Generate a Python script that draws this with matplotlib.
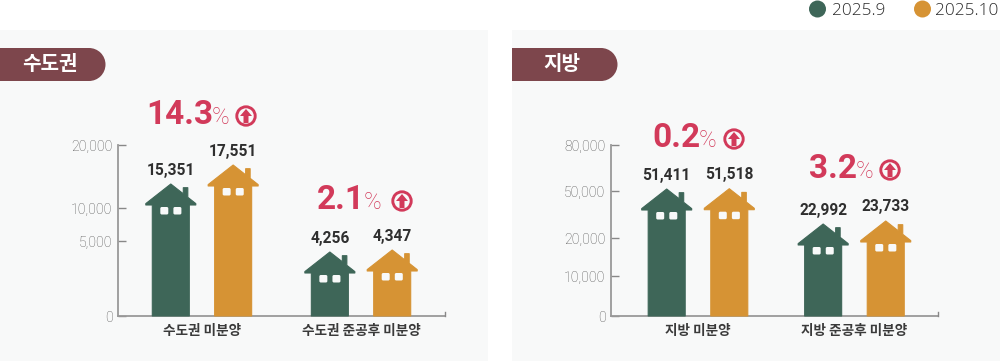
import numpy as np
from matplotlib import pyplot as plt
from matplotlib.patches import Polygon, Circle, Rectangle, FancyBboxPatch

plt.rcParams['font.family'] = ['Noto Sans CJK KR', 'DejaVu Sans']

# data
series_names = ["2025.9", "2025.10"]
left_title = "수도권"
right_title = "지방"
left_categories = ["수도권 미분양", "수도권 준공후 미분양"]
right_categories = ["지방 미분양", "지방 준공후 미분양"]
left_sep = [15351, 4256]
left_oct = [17551, 4347]
right_sep = [51411, 22992]
right_oct = [51518, 23733]
left_changes = ["14.3", "2.1"]
right_changes = ["0.2", "3.2"]
left_ticks = [0, 5000, 10000, 20000]
right_ticks = [0, 10000, 20000, 50000, 80000]

# the value axes in the picture are not linear, so the scale is piecewise
left_knots = [0, 4256, 4347, 5000, 10000, 15351, 17551, 20000]
left_knots_px = [0, 64, 66, 75, 108, 132, 151, 171]
right_knots = [0, 10000, 20000, 22992, 23733, 50000, 51411, 51518, 80000]
right_knots_px = [0, 40, 78, 92, 95, 125, 127, 127.3, 171]

green = "#3e6658"
orange = "#d69334"
red = "#d23a5a"
panel = "#f8f9f9"
maroon = "#7d464c"
num_font = ['Roboto', 'DejaVu Sans']

fig = plt.figure(figsize=(10, 3.61), dpi=100)
W, H = 1000, 361

# pixel overlay for the panels and house shapes
back = fig.add_axes([0, 0, 1, 1], zorder=0)
back.set_xlim(0, W)
back.set_ylim(H, 0)
back.axis("off")
top = fig.add_axes([0, 0, 1, 1], zorder=5)
top.set_xlim(0, W)
top.set_ylim(H, 0)
top.axis("off")


def make_axes(x0, x1, xlim, knots, knots_px, ticks):
    ax = fig.add_axes([x0 / W, (H - 316) / H, (x1 - x0) / W, 171 / H], zorder=2)
    ax.patch.set_alpha(0)
    ax.set_yscale("function", functions=(
        lambda v: np.interp(v, knots, knots_px),
        lambda p: np.interp(p, knots_px, knots)))
    ax.set_xlim(*xlim)
    ax.set_ylim(0, ticks[-1])
    ax.set_yticks(ticks)
    ax.set_yticklabels(["{:,}".format(t) for t in ticks], fontsize=10.2,
                       color="#555555", family=num_font, fontweight="light")
    ax.minorticks_off()
    ax.tick_params(axis="y", direction="in", length=5.8, width=1, color="#888888", pad=4)
    ax.tick_params(axis="x", length=0, pad=6)
    for side in ["top", "right"]:
        ax.spines[side].set_visible(False)
    for side in ["left", "bottom"]:
        ax.spines[side].set_color("#999999")
        ax.spines[side].set_linewidth(1.3)
    return ax


def draw_house(ax, x, value, color):
    cx, apex = top.transData.inverted().transform(ax.transData.transform((x, value)))
    base = 316
    shape = [(0, 0), (12.5, 9.8), (12.5, 3.7), (17, 3.7), (17, 13.3), (25, 19.6),
             (25, 21), (18.5, 21), (18.5, base - apex), (-18.5, base - apex),
             (-18.5, 21), (-25, 21), (-25, 19.6)]
    verts = [(cx + a, apex + b) for a, b in shape]
    top.add_patch(Polygon(verts, closed=True, facecolor=color, edgecolor=color,
                          lw=0.8, joinstyle="round"))
    for wx in [-10.5, 2.6]:
        top.add_patch(FancyBboxPatch((cx + wx + 1.5, apex + 24.5), 5, 4.5,
                                     boxstyle="round,pad=1.5,rounding_size=1.5",
                                     facecolor=panel, edgecolor="none"))
    top.text(cx, apex - 14, "{:,}".format(value), ha="center", va="center", fontsize=11.2,
             fontweight="bold", color="#2f2f2f", family=num_font)


def draw_change(text, right_x, baseline, circle_x):
    top.text(right_x + 2, baseline, text, ha="right", va="baseline", fontsize=24,
             fontweight="bold", color=red, family=num_font)
    top.text(right_x + 1, baseline, "%", ha="left", va="baseline", fontsize=17,
             fontweight="light", color=red, family=num_font)
    cy = baseline - 8
    top.add_patch(Circle((circle_x, cy), 9.2, facecolor="none", edgecolor=red, lw=2.1))
    arrow = [(0, -7), (6, 0), (2.5, 0), (2.5, 7), (-2.5, 7), (-2.5, 0), (-6, 0)]
    top.add_patch(Polygon([(circle_x + a, cy + b) for a, b in arrow], closed=True,
                          facecolor=red, edgecolor="none"))


def draw_panel(x0, x1, title, title_x):
    back.add_patch(Rectangle((x0, 30), x1 - x0, H - 30, facecolor=panel, edgecolor="none"))
    back.add_patch(Rectangle((x0, 48), 89, 33, facecolor=maroon, edgecolor="none"))
    back.add_patch(Circle((x0 + 89, 64.5), 16.5, facecolor=maroon, edgecolor="none"))
    top.text(title_x, 64, title, ha="center", va="center", fontsize=14.5,
             fontweight="bold", color="white")


draw_panel(0, 488, left_title, 50)
draw_panel(512, 1000, right_title, 562)

# left chart
ax1 = make_axes(118, 445, (-0.528, 1.528), left_knots, left_knots_px, left_ticks)
ax1.set_xticks([0, 1])
ax1.set_xticklabels(left_categories, fontsize=9.8, fontweight="bold", color="#3a3a3a")
ax1.set_xlim(-0.528, 1.528)
for i in range(2):
    draw_house(ax1, i - 0.196, left_sep[i], green)
    draw_house(ax1, i + 0.196, left_oct[i], orange)

# right chart
ax2 = make_axes(611, 938, (-0.556, 1.534), right_knots, right_knots_px, right_ticks)
ax2.set_xticks([0, 1])
ax2.set_xticklabels(right_categories, fontsize=9.8, fontweight="bold", color="#3a3a3a")
ax2.set_xlim(-0.556, 1.534)
for i in range(2):
    draw_house(ax2, i - 0.2, right_sep[i], green)
    draw_house(ax2, i + 0.2, right_oct[i], orange)

# little end ticks on the baselines
for x_end in [445, 938]:
    top.plot([x_end, x_end], [316, 312], color="#888888", lw=1)

draw_change(left_changes[0], 211, 124, 246)
draw_change(left_changes[1], 363, 209, 402)
draw_change(right_changes[0], 698, 147, 734)
draw_change(right_changes[1], 855, 178, 890)

# legend
for cx, tx, col, name in [(817.5, 832, green, series_names[0]), (922.5, 935, orange, series_names[1])]:
    top.add_patch(Circle((cx, 9), 8.5, facecolor=col, edgecolor="none", clip_on=False))
    top.text(tx, 15, name, ha="left", va="baseline", fontsize=12.3,
             color="#2a2a2a", family=['Open Sans', 'DejaVu Sans'], fontweight="light")

plt.savefig("out.png", dpi=100)
